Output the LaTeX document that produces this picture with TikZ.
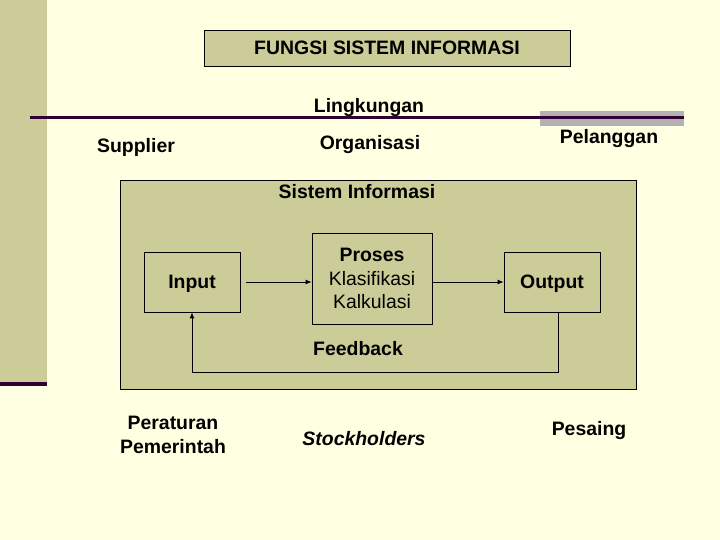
\documentclass[tikz,border=0pt]{standalone}
\usepackage{fontspec}
\setmainfont{Liberation Sans}
\usetikzlibrary{arrows.meta}
\definecolor{bg}{HTML}{FFFFE1}
\definecolor{khaki}{HTML}{CCCC99}
\definecolor{dark}{HTML}{330033}
\definecolor{grayband}{HTML}{B2B2B2}
\begin{document}
\begin{tikzpicture}[x=1bp,y=-1bp,
  lbl/.style={font=\bfseries\fontsize{19.5}{24}\selectfont, inner sep=0pt, align=center, yshift=-2.5bp},
  boxn/.style={draw=black, fill=khaki, line width=0.8bp, inner sep=0pt, align=center},
  conn/.style={line width=0.9bp, -{Latex[length=6bp,width=5bp]}}]
\useasboundingbox (0,0) rectangle (720,540);
\fill[bg] (0,0) rectangle (720,540);
\fill[khaki] (0,0) rectangle (47,382);
\fill[dark] (0,382) rectangle (47,386);
\fill[grayband] (540,111) rectangle (684,126);
\draw[dark, line width=3bp] (30,117.5) -- (684,117.5);
% title
\node[boxn, minimum width=366bp, minimum height=36bp, text depth=0pt, font=\bfseries\fontsize{19.5}{24}\selectfont] (title) at (387,48) {FUNGSI SISTEM INFORMASI};
\node[lbl] (ling) at (369,105) {Lingkungan};
\node[lbl] (supp) at (136,145) {Supplier};
\node[lbl] (org) at (370,142) {Organisasi};
\node[lbl] (pel) at (609,136) {Pelanggan};
% big box
\node[boxn, minimum width=516bp, minimum height=209bp] (si) at (378,284.5) {};
\node[lbl] (silbl) at (357,189) {Sistem Informasi};
\node[boxn, minimum width=96bp, minimum height=60bp, text depth=0pt, font=\bfseries\fontsize{19.5}{24}\selectfont] (inp) at (192,282) {Input};
\node[boxn, minimum width=120bp, minimum height=91bp, font=\fontsize{19.5}{24}\selectfont] (pro) at (372,278.5) {\textbf{Proses}\\Klasifikasi\\Kalkulasi};
\node[boxn, minimum width=96bp, minimum height=60bp, text depth=0pt, font=\bfseries\fontsize{19.5}{24}\selectfont] (out) at (552,282) {Output};
\coordinate (fbr) at (558,372);
\coordinate (fbl) at (192,372);
\draw[conn] ([xshift=6bp]inp.east) -- (pro.west |- inp.east);
\draw[conn] (pro.east |- out.west) -- (out.west);
\draw[line width=0.9bp] (out.south -| fbr) -- (fbr) -- (fbl);
\draw[conn] (fbl) -- (inp.south);
\node[lbl] (fb) at (358,346) {Feedback};
\node[lbl] (per) at (173,432) {Peraturan\\Pemerintah};
\node[lbl, font=\bfseries\itshape\fontsize{19.5}{24}\selectfont] (stock) at (364,436) {Stockholders};
\node[lbl] (pes) at (589,428) {Pesaing};
\end{tikzpicture}
\end{document}
